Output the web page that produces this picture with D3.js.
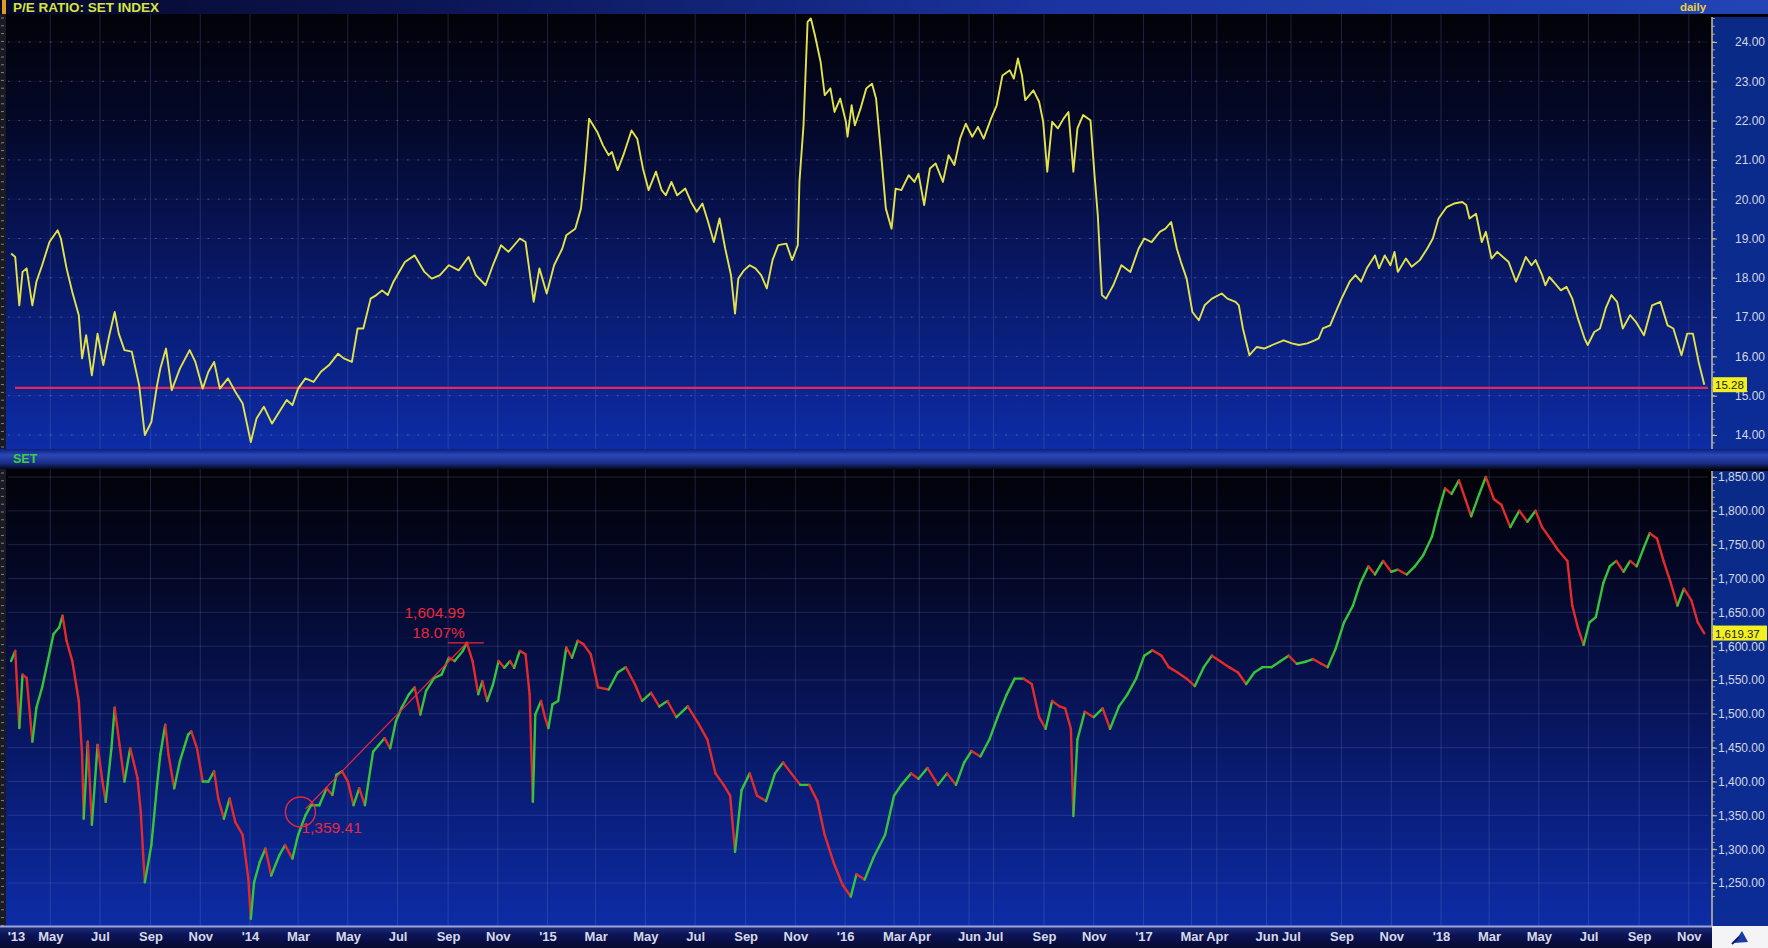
<!DOCTYPE html>
<html><head><meta charset="utf-8">
<script src="https://cdn.jsdelivr.net/npm/d3@7"></script>
<style>html,body{margin:0;padding:0;background:#000;overflow:hidden}</style>
</head><body><svg id="c" width="1768" height="948"></svg>
<script>
// ---------------- DATA ----------------
const peDates = ["2013-03-14","2013-03-19","2013-03-24","2013-03-28","2013-04-02","2013-04-09","2013-04-14","2013-04-21","2013-04-30","2013-05-10","2013-05-14","2013-05-21","2013-05-28","2013-06-05","2013-06-09","2013-06-14","2013-06-21","2013-06-28","2013-07-05","2013-07-12","2013-07-19","2013-07-24","2013-07-31","2013-08-09","2013-08-18","2013-08-25","2013-09-02","2013-09-09","2013-09-13","2013-09-20","2013-09-27","2013-10-07","2013-10-19","2013-10-26","2013-11-04","2013-11-11","2013-11-18","2013-11-25","2013-12-05","2013-12-14","2013-12-23","2014-01-02","2014-01-09","2014-01-18","2014-01-28","2014-02-06","2014-02-15","2014-02-22","2014-03-01","2014-03-10","2014-03-20","2014-03-29","2014-04-08","2014-04-19","2014-04-26","2014-05-06","2014-05-13","2014-05-20","2014-05-29","2014-06-05","2014-06-12","2014-06-19","2014-06-26","2014-07-10","2014-07-22","2014-08-03","2014-08-12","2014-08-22","2014-09-02","2014-09-14","2014-09-26","2014-10-05","2014-10-17","2014-10-26","2014-11-05","2014-11-14","2014-11-28","2014-12-05","2014-12-15","2014-12-22","2014-12-31","2015-01-09","2015-01-19","2015-01-24","2015-02-04","2015-02-11","2015-02-16","2015-02-21","2015-03-03","2015-03-10","2015-03-17","2015-03-21","2015-03-28","2015-04-04","2015-04-14","2015-04-21","2015-04-28","2015-05-05","2015-05-14","2015-05-21","2015-05-26","2015-06-02","2015-06-09","2015-06-19","2015-06-26","2015-07-03","2015-07-10","2015-07-17","2015-07-24","2015-07-31","2015-08-07","2015-08-14","2015-08-19","2015-08-23","2015-08-30","2015-09-06","2015-09-13","2015-09-20","2015-09-27","2015-10-04","2015-10-11","2015-10-21","2015-10-28","2015-11-04","2015-11-06","2015-11-11","2015-11-16","2015-11-20","2015-11-25","2015-12-02","2015-12-07","2015-12-14","2015-12-19","2015-12-26","2016-01-02","2016-01-04","2016-01-09","2016-01-13","2016-01-20","2016-01-27","2016-02-03","2016-02-08","2016-02-15","2016-02-20","2016-02-27","2016-03-03","2016-03-10","2016-03-19","2016-03-26","2016-03-31","2016-04-07","2016-04-14","2016-04-21","2016-04-30","2016-05-07","2016-05-14","2016-05-21","2016-05-28","2016-06-05","2016-06-12","2016-06-19","2016-06-28","2016-07-05","2016-07-12","2016-07-21","2016-07-26","2016-07-31","2016-08-05","2016-08-09","2016-08-19","2016-08-26","2016-08-31","2016-09-05","2016-09-11","2016-09-18","2016-09-25","2016-10-01","2016-10-07","2016-10-12","2016-10-19","2016-10-28","2016-11-02","2016-11-06","2016-11-11","2016-11-16","2016-11-25","2016-12-05","2016-12-16","2016-12-26","2017-01-02","2017-01-11","2017-01-21","2017-01-28","2017-02-04","2017-02-11","2017-02-16","2017-02-23","2017-03-02","2017-03-10","2017-03-17","2017-03-26","2017-04-07","2017-04-14","2017-04-24","2017-04-28","2017-05-03","2017-05-11","2017-05-20","2017-05-29","2017-06-08","2017-06-22","2017-07-02","2017-07-11","2017-07-21","2017-07-30","2017-08-04","2017-08-09","2017-08-18","2017-08-25","2017-09-01","2017-09-11","2017-09-18","2017-09-25","2017-10-02","2017-10-12","2017-10-17","2017-10-24","2017-10-31","2017-11-05","2017-11-09","2017-11-19","2017-11-26","2017-12-06","2017-12-15","2017-12-22","2017-12-29","2018-01-08","2018-01-17","2018-01-27","2018-02-01","2018-02-05","2018-02-13","2018-02-20","2018-02-25","2018-03-04","2018-03-11","2018-03-18","2018-03-25","2018-04-03","2018-04-08","2018-04-15","2018-04-22","2018-04-27","2018-05-05","2018-05-09","2018-05-14","2018-05-21","2018-05-28","2018-06-04","2018-06-11","2018-06-18","2018-06-26","2018-06-30","2018-07-08","2018-07-15","2018-07-22","2018-07-29","2018-08-05","2018-08-12","2018-08-21","2018-08-28","2018-09-07","2018-09-17","2018-09-27","2018-10-06","2018-10-13","2018-10-23","2018-10-30","2018-11-06","2018-11-13","2018-11-20"];
const peValues = [18.62,18.53,17.30,18.15,18.24,17.30,17.90,18.32,18.91,19.21,19.00,18.24,17.64,17.05,15.95,16.54,15.52,16.58,15.78,16.50,17.13,16.58,16.16,16.12,15.27,14.00,14.33,15.27,15.69,16.20,15.14,15.69,16.16,15.86,15.18,15.61,15.86,15.18,15.44,15.10,14.80,13.82,14.42,14.72,14.29,14.59,14.89,14.76,15.18,15.44,15.35,15.61,15.78,16.07,15.95,15.86,16.71,16.71,17.47,17.56,17.68,17.56,17.90,18.40,18.57,18.15,17.98,18.07,18.32,18.19,18.53,18.07,17.81,18.32,18.83,18.66,19.00,18.91,17.39,18.24,17.60,18.32,18.74,19.08,19.25,19.76,20.78,22.05,21.71,21.37,21.12,21.20,20.74,21.12,21.75,21.54,20.78,20.23,20.70,20.23,20.10,20.44,20.10,20.27,19.93,19.68,19.89,19.42,18.91,19.51,18.74,18.07,17.09,17.98,18.19,18.32,18.24,18.07,17.73,18.45,18.83,18.87,18.45,18.83,20.44,21.88,24.51,24.60,24.17,23.49,22.65,22.82,22.22,22.56,21.97,21.59,22.39,21.88,22.31,22.82,22.94,22.56,20.95,19.76,19.25,20.27,20.23,20.61,20.44,20.65,19.85,20.78,20.91,20.44,21.12,20.87,21.54,21.92,21.59,21.84,21.54,22.05,22.39,23.15,23.28,23.07,23.58,23.15,22.52,22.77,22.48,21.97,20.70,21.97,21.80,22.05,22.22,20.70,21.80,22.14,22.01,20.61,19.59,17.56,17.47,17.81,18.32,18.15,18.74,19.00,18.91,19.17,19.25,19.42,18.74,18.40,17.98,17.13,16.92,17.30,17.47,17.60,17.47,17.39,17.30,16.71,16.03,16.24,16.20,16.29,16.41,16.33,16.29,16.33,16.41,16.46,16.71,16.79,17.13,17.47,17.90,18.07,17.90,18.24,18.57,18.24,18.57,18.32,18.66,18.15,18.49,18.28,18.45,18.74,19.00,19.51,19.80,19.89,19.93,19.85,19.51,19.63,18.91,19.17,18.49,18.66,18.53,18.40,17.90,18.15,18.53,18.32,18.45,18.07,17.81,18.02,17.85,17.68,17.77,17.47,16.96,16.46,16.29,16.62,16.71,17.22,17.56,17.39,16.71,17.05,16.88,16.54,17.30,17.39,16.79,16.71,16.03,16.58,16.58,15.86,15.28];

const setDates = ["2013-03-14","2013-03-19","2013-03-24","2013-03-28","2013-04-02","2013-04-09","2013-04-14","2013-04-21","2013-04-28","2013-05-05","2013-05-12","2013-05-16","2013-05-21","2013-05-28","2013-06-05","2013-06-09","2013-06-11","2013-06-16","2013-06-21","2013-06-28","2013-07-04","2013-07-08","2013-07-15","2013-07-19","2013-07-25","2013-07-31","2013-08-07","2013-08-11","2013-08-16","2013-08-20","2013-08-23","2013-08-25","2013-09-02","2013-09-09","2013-09-13","2013-09-19","2013-09-23","2013-09-30","2013-10-07","2013-10-17","2013-10-21","2013-10-28","2013-11-04","2013-11-11","2013-11-18","2013-11-23","2013-11-30","2013-12-07","2013-12-14","2013-12-23","2013-12-30","2014-01-02","2014-01-06","2014-01-13","2014-01-20","2014-01-27","2014-02-06","2014-02-13","2014-02-22","2014-03-01","2014-03-10","2014-03-17","2014-03-27","2014-04-05","2014-04-12","2014-04-17","2014-04-24","2014-05-01","2014-05-08","2014-05-15","2014-05-22","2014-05-27","2014-06-01","2014-06-08","2014-06-15","2014-06-22","2014-06-29","2014-07-06","2014-07-15","2014-07-22","2014-07-29","2014-08-05","2014-08-15","2014-08-24","2014-09-02","2014-09-09","2014-09-19","2014-09-24","2014-10-01","2014-10-08","2014-10-13","2014-10-19","2014-10-26","2014-11-02","2014-11-09","2014-11-16","2014-11-21","2014-11-28","2014-12-05","2014-12-10","2014-12-14","2014-12-17","2014-12-24","2014-12-29","2015-01-02","2015-01-07","2015-01-14","2015-01-19","2015-01-24","2015-01-31","2015-02-07","2015-02-14","2015-02-23","2015-03-04","2015-03-17","2015-03-28","2015-04-07","2015-04-18","2015-04-27","2015-05-08","2015-05-18","2015-05-28","2015-06-08","2015-06-22","2015-07-05","2015-07-16","2015-07-26","2015-08-05","2015-08-13","2015-08-19","2015-08-27","2015-09-06","2015-09-15","2015-09-26","2015-10-07","2015-10-17","2015-10-27","2015-11-07","2015-11-18","2015-11-28","2015-12-07","2015-12-18","2015-12-29","2016-01-08","2016-01-15","2016-01-25","2016-02-05","2016-02-19","2016-03-01","2016-03-10","2016-03-22","2016-03-31","2016-04-11","2016-04-24","2016-05-05","2016-05-16","2016-05-26","2016-06-04","2016-06-15","2016-06-26","2016-07-06","2016-07-17","2016-07-27","2016-08-07","2016-08-17","2016-08-26","2016-09-03","2016-09-11","2016-09-20","2016-09-27","2016-10-04","2016-10-07","2016-10-12","2016-10-21","2016-11-01","2016-11-12","2016-11-21","2016-12-02","2016-12-12","2016-12-23","2017-01-02","2017-01-12","2017-01-23","2017-02-01","2017-02-12","2017-02-23","2017-03-05","2017-03-16","2017-03-26","2017-04-06","2017-04-16","2017-04-27","2017-05-07","2017-05-17","2017-05-27","2017-06-07","2017-06-17","2017-06-28","2017-07-08","2017-07-19","2017-07-28","2017-08-07","2017-08-15","2017-08-25","2017-09-04","2017-09-15","2017-09-24","2017-10-04","2017-10-12","2017-10-22","2017-11-01","2017-11-09","2017-11-20","2017-11-30","2017-12-10","2017-12-21","2017-12-29","2018-01-06","2018-01-14","2018-01-23","2018-01-31","2018-02-07","2018-02-17","2018-02-25","2018-03-07","2018-03-16","2018-03-27","2018-04-07","2018-04-17","2018-04-27","2018-05-05","2018-05-15","2018-05-24","2018-06-05","2018-06-11","2018-06-18","2018-06-25","2018-07-02","2018-07-10","2018-07-19","2018-07-27","2018-08-04","2018-08-13","2018-08-21","2018-08-29","2018-09-06","2018-09-14","2018-09-23","2018-10-01","2018-10-10","2018-10-18","2018-10-26","2018-11-04","2018-11-12","2018-11-20"];
const setValues = [1578,1593,1479,1558,1553,1459,1509,1539,1578,1618,1628,1645,1608,1578,1519,1440,1345,1459,1336,1454,1400,1370,1449,1509,1454,1400,1449,1430,1405,1355,1291,1251,1306,1395,1440,1484,1440,1390,1430,1469,1474,1449,1400,1400,1415,1375,1345,1375,1340,1321,1256,1197,1251,1281,1301,1261,1291,1306,1286,1321,1350,1365,1365,1390,1380,1410,1415,1400,1365,1390,1365,1405,1444,1454,1464,1449,1489,1509,1529,1539,1499,1534,1553,1558,1583,1578,1593,1605,1578,1529,1548,1519,1543,1578,1568,1578,1568,1593,1588,1529,1370,1499,1519,1494,1479,1514,1519,1558,1598,1583,1608,1603,1588,1539,1536,1561,1569,1544,1519,1531,1511,1519,1495,1511,1486,1462,1412,1395,1379,1296,1387,1412,1379,1371,1412,1428,1412,1395,1395,1371,1321,1280,1247,1230,1263,1255,1288,1321,1379,1395,1412,1404,1420,1395,1412,1395,1428,1445,1437,1462,1495,1528,1552,1552,1544,1495,1478,1519,1511,1508,1478,1349,1462,1503,1495,1508,1478,1511,1528,1552,1586,1594,1586,1569,1561,1552,1541,1569,1586,1577,1569,1561,1544,1561,1569,1569,1577,1586,1574,1577,1581,1574,1569,1597,1635,1660,1693,1718,1706,1726,1710,1713,1706,1718,1734,1762,1800,1833,1825,1845,1817,1792,1825,1850,1817,1809,1776,1800,1784,1800,1776,1759,1743,1726,1660,1627,1602,1635,1643,1693,1718,1726,1710,1726,1718,1743,1767,1759,1726,1693,1660,1685,1668,1635,1619];

const peTicks = [14,15,16,17,18,19,20,21,22,23,24];
const setTicks = [1250,1300,1350,1400,1450,1500,1550,1600,1650,1700,1750,1800,1850];
const xTickDates = ["2013-03-20","2013-05-01","2013-07-01","2013-09-01","2013-11-01","2014-01-01","2014-03-01","2014-05-01","2014-07-01","2014-09-01","2014-11-01","2015-01-01","2015-03-01","2015-05-01","2015-07-01","2015-09-01","2015-11-01","2016-01-01","2016-03-01","2016-04-01","2016-06-01","2016-07-01","2016-09-01","2016-11-01","2017-01-01","2017-03-01","2017-04-01","2017-06-01","2017-07-01","2017-09-01","2017-11-01","2018-01-01","2018-03-01","2018-05-01","2018-07-01","2018-09-01","2018-11-01"];
const xTickLabels = ["'13","May","Jul","Sep","Nov","'14","Mar","May","Jul","Sep","Nov","'15","Mar","May","Jul","Sep","Nov","'16","Mar","Apr","Jun","Jul","Sep","Nov","'17","Mar","Apr","Jun","Jul","Sep","Nov","'18","Mar","May","Jul","Sep","Nov"];
const peRefLevel = [15.2];
const lastLabels = ["15.28","1,619.37"];
const lastValues = [15.28,1619.37];
const annDates = ["2014-03-10","2014-09-24"];
const annValues = [1359.41,1604.99];
const annPct = ["18.07%"];
const titles = ["P/E RATIO: SET INDEX","daily","SET"];

// ---------------- LAYOUT ----------------
const W=1768,H=948, plotL=8, plotR=1708, axX=1712;
const topY0=14, topY1=449, botY0=469, botY1=926;
const parse=d3.utcParse("%Y-%m-%d");
const x=d3.scaleUtc().domain([parse("2014-01-01"),parse("2018-01-01")]).range([250,1441]);
const yPE=d3.scaleLinear().domain([14,24]).range([435,42]);
const ySET=d3.scaleLinear().domain([1250,1850]).range([883,477]);
const svg=d3.select("#c");
const defs=svg.append("defs");
function vgrad(id,stops){const g=defs.append("linearGradient").attr("id",id).attr("x1",0).attr("y1",0).attr("x2",0).attr("y2",1);stops.forEach(s=>g.append("stop").attr("offset",s[0]).attr("stop-color",s[1]));}
function hgrad(id,stops){const g=defs.append("linearGradient").attr("id",id).attr("x1",0).attr("y1",0).attr("x2",1).attr("y2",0);stops.forEach(s=>g.append("stop").attr("offset",s[0]).attr("stop-color",s[1]));}
vgrad("gPanel",[[0,"#020208"],[0.25,"#040828"],[0.6,"#081866"],[1,"#0d2ca6"]]);
vgrad("gAxis",[[0,"#0a2a86"],[1,"#0c2c96"]]);
hgrad("gTitle",[[0,"#06082a"],[0.25,"#0c1656"],[0.6,"#1a34a0"],[1,"#2244b4"]]);
vgrad("gSep",[[0,"#0c1e7a"],[0.3,"#2a48b8"],[0.7,"#1a2e88"],[1,"#05081e"]]);
vgrad("gXband",[[0,"#20307a"],[0.4,"#0c1458"],[1,"#060a30"]]);
const clipT=defs.append("clipPath").attr("id","clipT");clipT.append("rect").attr("x",plotL).attr("y",topY0).attr("width",plotR-plotL).attr("height",topY1-topY0);
const clipB=defs.append("clipPath").attr("id","clipB");clipB.append("rect").attr("x",plotL).attr("y",botY0).attr("width",plotR-plotL).attr("height",botY1-botY0);

svg.append("rect").attr("width",W).attr("height",H).attr("fill","#000");
// title bar
svg.append("rect").attr("x",0).attr("y",0).attr("width",W).attr("height",topY0).attr("fill","url(#gTitle)");
svg.append("rect").attr("x",2).attr("y",0).attr("width",4).attr("height",16).attr("fill","#e09a20");
svg.append("text").attr("x",13).attr("y",11.5).text(titles[0]).attr("fill","#d6e43c").attr("font-family","Liberation Sans Narrow, Arial Narrow, Liberation Sans, Arial").attr("font-weight","bold").attr("font-size",13.5);
svg.append("text").attr("x",1693).attr("y",11).attr("text-anchor","middle").text(titles[1]).attr("fill","#e8d23c").attr("font-family","Liberation Sans, Arial").attr("font-weight","bold").attr("font-size",11.5);
// panels
svg.append("rect").attr("x",0).attr("y",topY0).attr("width",axX).attr("height",topY1-topY0).attr("fill","url(#gPanel)");
svg.append("rect").attr("x",0).attr("y",botY0).attr("width",axX).attr("height",botY1-botY0).attr("fill","url(#gPanel)");
svg.append("rect").attr("x",axX).attr("y",topY0+3).attr("width",W-axX).attr("height",topY1-topY0-3).attr("fill","url(#gAxis)");
svg.append("rect").attr("x",axX).attr("y",botY0+2).attr("width",W-axX).attr("height",botY1-botY0-2).attr("fill","url(#gAxis)");
// separator
svg.append("rect").attr("x",0).attr("y",topY1).attr("width",W).attr("height",botY0-topY1).attr("fill","url(#gSep)");
svg.append("text").attr("x",13).attr("y",463).text(titles[2]).attr("fill","#3ccf3c").attr("font-family","Liberation Sans Narrow, Arial Narrow, Liberation Sans, Arial").attr("font-weight","bold").attr("font-size",12.5);
// left strips
[[topY0,topY1],[botY0,botY1]].forEach(([a,b])=>{
  svg.append("rect").attr("x",0).attr("y",a).attr("width",6).attr("height",b-a).attr("fill","#1a1a22");
  for(let yy=a+4;yy<b;yy+=7.8){svg.append("line").attr("x1",1).attr("x2",4).attr("y1",yy).attr("y2",yy).attr("stroke","#9a9aa8").attr("stroke-width",0.8);}
});

// grids
const tickDates=xTickDates.map(parse).slice(1);
const gT=svg.append("g").attr("clip-path","url(#clipT)");
const gB=svg.append("g").attr("clip-path","url(#clipB)");
tickDates.forEach(d=>{
  gT.append("line").attr("x1",x(d)).attr("x2",x(d)).attr("y1",topY0).attr("y2",topY1).attr("stroke","#8a98d8").attr("stroke-opacity",0.22).attr("stroke-width",1);
  gB.append("line").attr("x1",x(d)).attr("x2",x(d)).attr("y1",botY0).attr("y2",botY1).attr("stroke","#8a98d8").attr("stroke-opacity",0.22).attr("stroke-width",1);
});
peTicks.forEach(v=>{
  gT.append("line").attr("x1",plotL).attr("x2",plotR).attr("y1",yPE(v)).attr("y2",yPE(v)).attr("stroke","#aab4e8").attr("stroke-opacity",0.4).attr("stroke-dasharray","1.5,9");
  gT.append("line").attr("x1",plotL).attr("x2",plotR).attr("y1",yPE(v)).attr("y2",yPE(v)).attr("stroke","#8a98d8").attr("stroke-opacity",0.08);
});
setTicks.forEach(v=>{
  gB.append("line").attr("x1",plotL).attr("x2",plotR).attr("y1",ySET(v)).attr("y2",ySET(v)).attr("stroke","#8a98d8").attr("stroke-opacity",0.2);
});

// PE reference line
gT.append("line").attr("x1",15).attr("x2",plotR).attr("y1",yPE(peRefLevel[0])).attr("y2",yPE(peRefLevel[0])).attr("stroke","#e6285a").attr("stroke-width",2.2);
// PE line
const peData=peDates.map((d,i)=>({d:parse(d),v:peValues[i]}));
const line=d3.line().x(p=>x(p.d)).y(p=>yPE(p.v));
gT.append("path").datum(peData).attr("d",line).attr("fill","none").attr("stroke","#e2e24a").attr("stroke-width",1.9).attr("stroke-linejoin","round");

// SET segments
const setData=setDates.map((d,i)=>({d:parse(d),v:setValues[i]}));
for(let i=1;i<setData.length;i++){
  const a=setData[i-1], b=setData[i];
  gB.append("line").attr("x1",x(a.d)).attr("y1",ySET(a.v)).attr("x2",x(b.d)).attr("y2",ySET(b.v))
    .attr("stroke", b.v>=a.v ? "#36c43a" : "#e42a2a").attr("stroke-width",2.4).attr("stroke-linecap","round");
}
// annotations
const ad=annDates.map(parse);
gB.append("line").attr("x1",x(ad[0])).attr("y1",ySET(annValues[0])).attr("x2",x(ad[1])).attr("y2",ySET(annValues[1])).attr("stroke","#e8283c").attr("stroke-width",1.2);
gB.append("line").attr("x1",x(ad[1])-19).attr("x2",x(ad[1])+17).attr("y1",ySET(annValues[1])).attr("y2",ySET(annValues[1])).attr("stroke","#e8283c").attr("stroke-width",1.2);
gB.append("circle").attr("cx",x(ad[0])-5).attr("cy",ySET(annValues[0])+3).attr("r",15).attr("fill","none").attr("stroke","#e8283c").attr("stroke-width",1.4);
const fmt=d3.format(",.2f");
const annFont="Liberation Sans, Arial";
gB.append("text").attr("x",x(ad[0])-4).attr("y",ySET(annValues[0])+24).text(fmt(annValues[0])).attr("fill","#e8283c").attr("font-family",annFont).attr("font-size",15.5);
gB.append("text").attr("x",x(ad[1])-2).attr("y",ySET(annValues[1])-25).attr("text-anchor","end").text(fmt(annValues[1])).attr("fill","#e8283c").attr("font-family",annFont).attr("font-size",15.5);
gB.append("text").attr("x",x(ad[1])-2).attr("y",ySET(annValues[1])-5).attr("text-anchor","end").text(annPct[0]).attr("fill","#e8283c").attr("font-family",annFont).attr("font-size",15.5);

// right axes
const axG=svg.append("g");
axG.append("line").attr("x1",axX).attr("x2",axX).attr("y1",topY0+3).attr("y2",topY1).attr("stroke","#c8bf9c").attr("stroke-width",1.5);
axG.append("line").attr("x1",axX).attr("x2",axX).attr("y1",botY0+2).attr("y2",botY1).attr("stroke","#c8bf9c").attr("stroke-width",1.5);
d3.range(13.6,24.6,0.2).forEach(v=>{const yy=yPE(v); if(yy>topY0+3&&yy<topY1) axG.append("line").attr("x1",axX).attr("x2",axX+3).attr("y1",yy).attr("y2",yy).attr("stroke","#c8bf9c").attr("stroke-width",0.8);});
d3.range(1230,1870,10).forEach(v=>{const yy=ySET(v); if(yy>botY0+2&&yy<botY1) axG.append("line").attr("x1",axX).attr("x2",axX+3).attr("y1",yy).attr("y2",yy).attr("stroke","#c8bf9c").attr("stroke-width",0.8);});
const yAxisPE=d3.axisRight(yPE).tickValues(peTicks).tickFormat(d3.format(".2f")).tickSize(5);
const gy1=axG.append("g").attr("transform",`translate(${axX},0)`).call(yAxisPE);
const yAxisSET=d3.axisRight(ySET).tickValues(setTicks).tickFormat(d3.format(",.2f")).tickSize(5);
const gy2=axG.append("g").attr("transform",`translate(${axX},0)`).call(yAxisSET);
[gy1,gy2].forEach(g=>{g.select(".domain").remove();g.selectAll(".tick line").attr("stroke","#c8bf9c");g.selectAll(".tick text").attr("fill","#d4d6e2").attr("font-family","Liberation Sans, Arial").attr("font-size",12).attr("dx",0);});
gy1.selectAll(".tick text").attr("x",23);
gy2.selectAll(".tick text").attr("x",6);
// last value labels
const lbl=[[yPE(lastValues[0]),lastLabels[0],34],[ySET(lastValues[1]),lastLabels[1],54]];
lbl.forEach(([yy,t,w])=>{
  axG.append("rect").attr("x",axX+1).attr("y",yy-7.5).attr("width",w).attr("height",15).attr("fill","#f2f020");
  axG.append("text").attr("x",axX+3).attr("y",yy+4.5).text(t).attr("fill","#222").attr("font-family","Liberation Sans, Arial").attr("font-size",11.5);
});

// x-axis band
svg.append("rect").attr("x",0).attr("y",botY1).attr("width",axX).attr("height",H-botY1).attr("fill","url(#gXband)");
svg.append("line").attr("x1",0).attr("x2",axX).attr("y1",botY1+0.5).attr("y2",botY1+0.5).attr("stroke","#9aa4d6").attr("stroke-width",2);
const xAxis=d3.axisBottom(x).tickValues(xTickDates.map(parse)).tickFormat((d,i)=>xTickLabels[i]).tickSize(0);
const gx=svg.append("g").attr("transform",`translate(0,${botY1+4})`).call(xAxis);
gx.select(".domain").remove();
gx.selectAll(".tick text").attr("fill","#d6dae8").attr("font-family","Liberation Sans Narrow, Arial Narrow, Liberation Sans, Arial").attr("font-weight","bold").attr("font-size",13).attr("dy","0.75em").attr("y",1);
// corner
svg.append("rect").attr("x",axX).attr("y",botY1).attr("width",W-axX).attr("height",H-botY1).attr("fill","#f4f4f6");
svg.append("path").attr("d",`M${axX+22},${H-5} L${axX+30},${H-17} L${axX+36},${H-6} Z`).attr("fill","#1a3aa8");
svg.append("path").attr("d",`M${axX+20},${H-4} L${axX+27},${H-11}`).attr("stroke","#0a1a60").attr("stroke-width",2);
</script></body></html>
